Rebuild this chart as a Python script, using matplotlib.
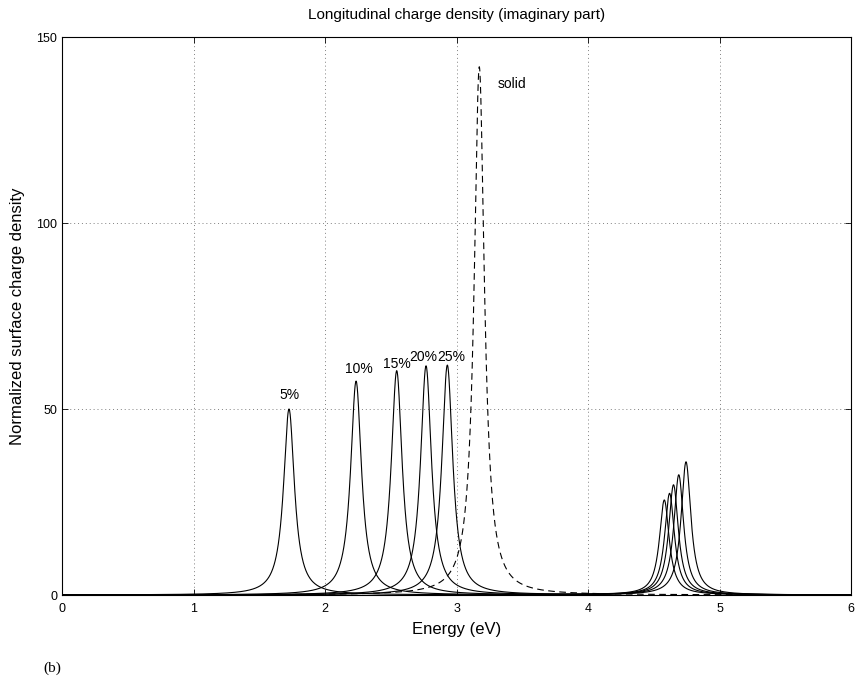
# plot.py
# Longitudinal charge density (imaginary part) - surface charge resonances
import numpy as np
import matplotlib
matplotlib.use("Agg")
import matplotlib.pyplot as plt

plt.rcParams['font.family'] = ['Liberation Sans', 'DejaVu Sans']

# peak parameters (center eV, height, half width eV)
fill_labels = ["5%", "10%", "15%", "20%", "25%"]
low_centers = [1.726, 2.236, 2.545, 2.768, 2.93]
low_heights = [50.0, 57.5, 60.3, 61.6, 61.8]
low_widths = [0.050, 0.050, 0.050, 0.050, 0.050]
high_centers = [4.745, 4.69, 4.65, 4.62, 4.58]
high_heights = [35.8, 32.3, 29.6, 27.3, 25.5]
high_widths = [0.045, 0.045, 0.045, 0.045, 0.045]

solid_center = 3.173
solid_height = 142.0
solid_width = 0.047

# label anchor points (x, y in data units)
label_x = [1.726, 2.26, 2.55, 2.75, 2.96]
label_y = [51.8, 58.8, 60.2, 62.0, 62.0]

energy = np.linspace(0, 6, 3000)


def lorentz(e, e0, h, g):
    return h * g**2 / ((e - e0)**2 + g**2)


fig = plt.figure(figsize=(8.64, 6.78), dpi=100)
ax = fig.add_axes([0.0718, 0.1224, 0.9132, 0.823])

for i in range(len(fill_labels)):
    y = lorentz(energy, low_centers[i], low_heights[i], low_widths[i]) + \
        lorentz(energy, high_centers[i], high_heights[i], high_widths[i])
    ax.plot(energy, y, color="black", linewidth=0.8)
    ax.text(label_x[i], label_y[i], fill_labels[i], ha="center", va="bottom", fontsize=10)

ax.plot(energy, lorentz(energy, solid_center, solid_height, solid_width),
        color="black", linewidth=0.8, linestyle=(0, (6, 4)))
ax.text(3.31, 137.5, "solid", ha="left", va="center", fontsize=10)

ax.set_xlim(0, 6)
ax.set_ylim(0, 150)
ax.set_xticks([0, 1, 2, 3, 4, 5, 6])
ax.set_yticks([0, 50, 100, 150])
ax.tick_params(direction="in", labelsize=9, length=4, width=0.6, top=True, right=True)
ax.tick_params(axis="x", pad=6)
ax.grid(True, linestyle=(0, (1, 3)), color="gray", linewidth=0.7)
for s in ax.spines.values():
    s.set_linewidth(0.8)

ax.set_xlabel("Energy (eV)", fontsize=12, labelpad=5)
ax.set_ylabel("Normalized surface charge density", fontsize=12, labelpad=8)
ax.set_title("Longitudinal charge density (imaginary part)", fontsize=11, pad=13)

fig.text(52 / 864, 1 - 668 / 678, "(b)", family="Liberation Serif", fontsize=11,
         ha="center", va="center")

fig.savefig("out.png", dpi=100)
